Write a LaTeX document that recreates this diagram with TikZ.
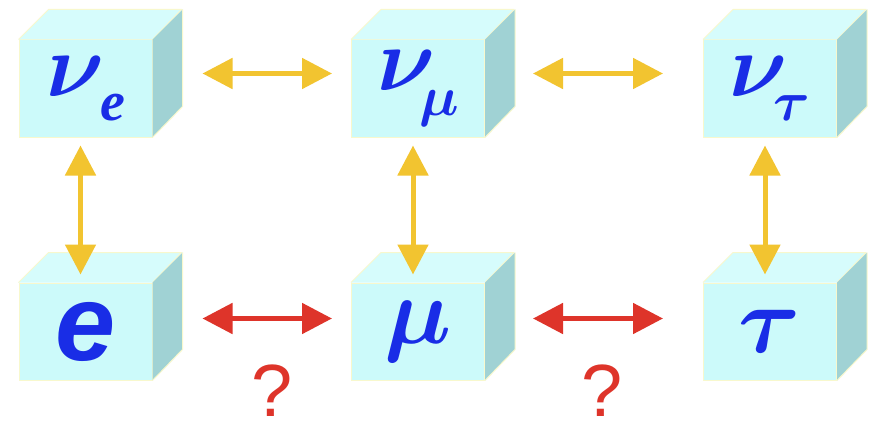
\RequirePackage{fix-cm}
\documentclass[tikz,border=0pt]{standalone}
\usepackage{amsmath}
\usepackage{fontspec}
\setmainfont{Liberation Serif}
\newfontfamily\sansq{Liberation Sans}
\usetikzlibrary{arrows.meta}
\definecolor{frontc}{RGB}{204,250,250}
\definecolor{topc}{RGB}{214,252,252}
\definecolor{sidec}{RGB}{160,210,212}
\definecolor{edgec}{RGB}{248,248,205}
\definecolor{txtc}{RGB}{25,45,230}
\definecolor{goldc}{RGB}{242,196,48}
\definecolor{redc}{RGB}{222,52,42}
\newcommand{\gkbig}[1]{\fontsize{90}{90}\selectfont$\boldsymbol{\nu}$\raisebox{-0.27em}{\fontsize{56}{56}\selectfont #1}}
\tikzset{
  front/.style={rectangle, fill=frontc, draw=edgec, line width=1pt, minimum width=133pt, minimum height=97pt, inner sep=0pt, text=txtc},
  facet/.style={draw=edgec, line width=1pt, line join=round},
  goldarrow/.style={draw=goldc, line width=5pt, {Triangle[length=30pt,width=30pt]}-{Triangle[length=30pt,width=30pt]}},
  redarrow/.style={draw=redc, line width=5pt, {Triangle[length=30pt,width=30pt]}-{Triangle[length=30pt,width=30pt]}},
  qmark/.style={text=redc, font=\sansq\fontsize{74}{74}\selectfont, inner sep=0pt, anchor=base, text depth=0pt}
}
\newcommand{\cube}[4]{% name, x, y, label
  \node[front] (#1) at (#2pt,-#3pt) {#4};
  \fill[topc] (#1.north west) -- ++(30pt,30pt) -- ++(133pt,0) -- (#1.north east) -- cycle;
  \draw[facet] (#1.north west) -- ++(30pt,30pt) -- ++(133pt,0) -- (#1.north east);
  \fill[sidec] (#1.north east) -- ++(30pt,30pt) -- ++(0,-97pt) -- (#1.south east) -- cycle;
  \draw[facet] ([shift={(30pt,30pt)}]#1.north east) -- ++(0,-97pt) -- (#1.south east);
}
\begin{document}
\begin{tikzpicture}[x=1pt,y=1pt]
\useasboundingbox (0,0) rectangle (872,-425);
\fill[white] (0,0) rectangle (872,-425);
\cube{ve}{85.5}{88.5}{\gkbig{\kern-4pt\bfseries\itshape e}}
\cube{vm}{418}{88.5}{\gkbig{\kern-16pt$\boldsymbol{\mu}$}}
\cube{vt}{770}{88.5}{\gkbig{\kern-14pt$\boldsymbol{\tau}$}}
\cube{e}{85.5}{331.5}{\sansq\fontsize{108}{108}\selectfont\bfseries\itshape e}
\cube{mu}{418}{331.5}{\fontsize{95}{95}\selectfont$\boldsymbol{\mu}$}
\cube{tau}{770}{331.5}{\fontsize{95}{95}\selectfont$\boldsymbol{\tau}$}
% horizontal gold arrows
\draw[goldarrow] ([xshift=50pt,yshift=15pt]ve.east) -- ([xshift=-19pt,yshift=15pt]vm.west);
\draw[goldarrow] ([xshift=48pt,yshift=15pt]vm.east) -- ([xshift=-40pt,yshift=15pt]vt.west);
% vertical gold arrows
\draw[goldarrow] ([xshift=-5pt,yshift=-8pt]ve.south) -- ([xshift=-5pt,yshift=8pt]e.north);
\draw[goldarrow] ([xshift=-5pt,yshift=-8pt]vm.south) -- ([xshift=-5pt,yshift=8pt]mu.north);
\draw[goldarrow] ([xshift=-5pt,yshift=-8pt]vt.south) -- ([xshift=-5pt,yshift=8pt]tau.north);
% red arrows
\draw[redarrow] ([xshift=50pt,yshift=13pt]e.east) -- ([xshift=-19pt,yshift=13pt]mu.west);
\draw[redarrow] ([xshift=48pt,yshift=13pt]mu.east) -- ([xshift=-40pt,yshift=13pt]tau.west);
\node[qmark] (q1) at (272,-416) {?};
\node[qmark] (q2) at (602,-416) {?};
\end{tikzpicture}
\end{document}
